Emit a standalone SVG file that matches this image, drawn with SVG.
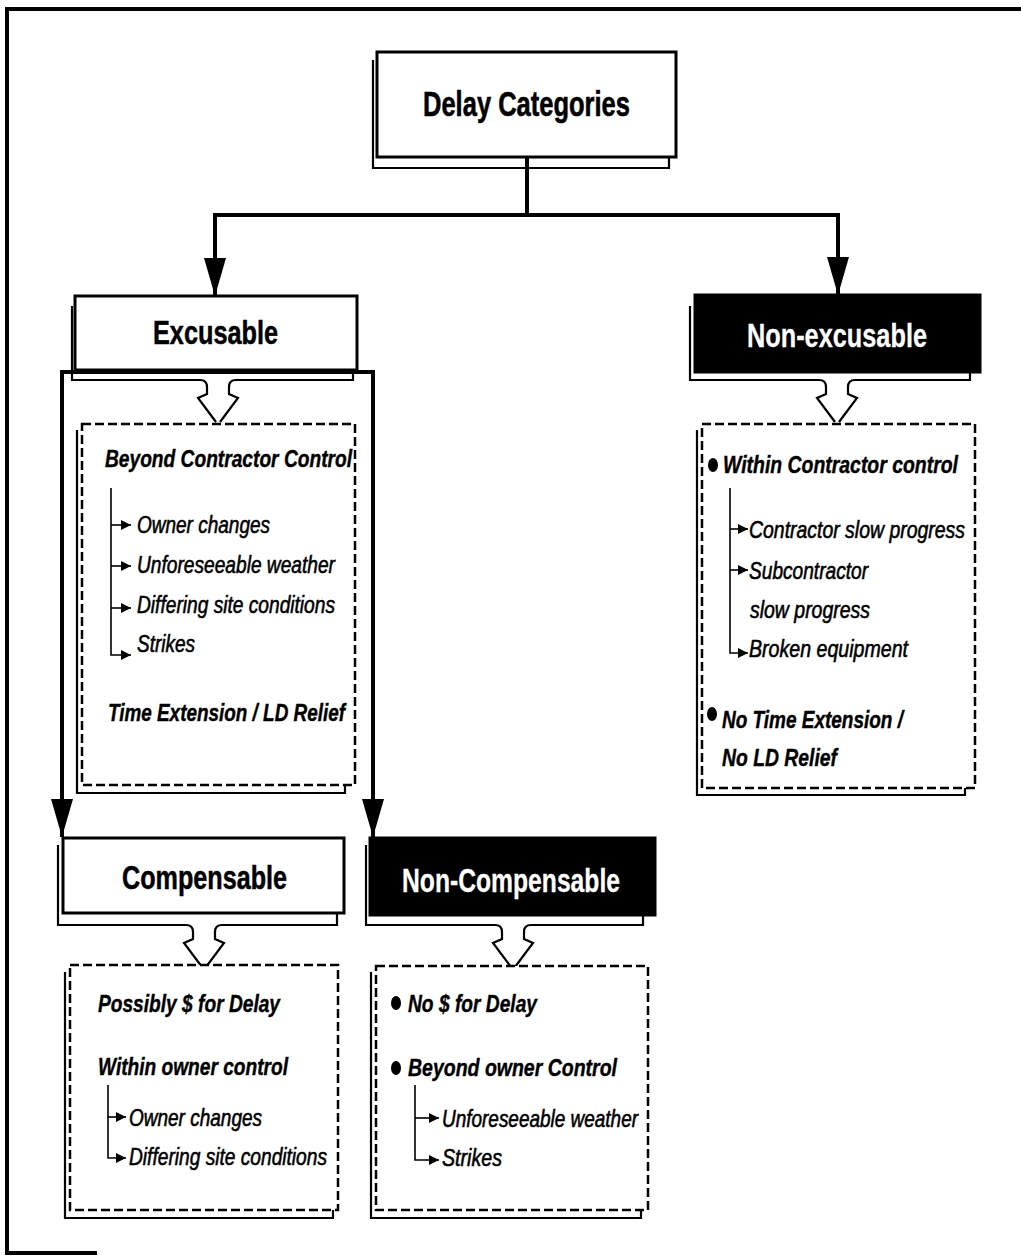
<svg xmlns="http://www.w3.org/2000/svg" width="1021" height="1259" viewBox="0 0 1021 1259">
<defs>
<style>
.box{fill:#fff;stroke:#000;stroke-width:3}
.dark{fill:#000;stroke:#000;stroke-width:3}
.shadow{fill:none;stroke:#000;stroke-width:2.2}
.dash{fill:#fff;stroke:#000;stroke-width:2.5;stroke-dasharray:9 4}
.conn{fill:none;stroke:#000;stroke-width:4}
.tree{fill:none;stroke:#000;stroke-width:1.6}
.frame{fill:none;stroke:#000;stroke-width:4}
text{font-family:"Liberation Sans Narrow","Liberation Sans",Arial,sans-serif}
.title{font-weight:bold;font-size:35px;stroke:#000;stroke-width:0.6}
.lbl{font-weight:bold;font-size:33px;stroke:#000;stroke-width:0.5}
.wt{fill:#fff;stroke:#fff;stroke-width:0.3}
.head{font-weight:bold;font-style:italic;font-size:24px;stroke:#000;stroke-width:0.4}
.item{font-style:italic;font-size:24px;stroke:#000;stroke-width:0.6}
</style>
<marker id="big" markerUnits="userSpaceOnUse" viewBox="0 0 38 22" markerWidth="38" markerHeight="22" refX="38" refY="11" orient="auto">
<path d="M0,0 L38,11 L0,22 z" fill="#000"/>
</marker>
<marker id="sm" markerUnits="userSpaceOnUse" viewBox="0 0 10 10" markerWidth="10" markerHeight="10" refX="10" refY="5" orient="auto">
<path d="M0,0 L10,5 L0,10 z" fill="#000"/>
</marker>
<path id="funnel" d="M-18,0 Q-11,0 -11,7 V14 L-20,18 L-2,42 M18,0 Q11,0 11,7 V14 L20,18 L2,42" fill="none" stroke="#000" stroke-width="2.2"/>
</defs>

<g id="frame">
<path class="frame" d="M5,9 H1021" stroke-width="5"/>
<path class="frame" d="M7,7 V1255"/>
<path class="frame" d="M7,1253 H97"/>
</g>

<g id="connectors">
<path class="conn" d="M527,157 V215"/>
<path class="conn" d="M527,215 H215 V296" marker-end="url(#big)"/>
<path class="conn" d="M527,215 H838 V295" marker-end="url(#big)"/>
<path class="conn" d="M218,372 H62 V837" marker-end="url(#big)"/>
<path class="conn" d="M218,372 H373 V837" marker-end="url(#big)"/>
<use href="#funnel" x="218" y="380"/>
<use href="#funnel" x="837" y="380"/>
<use href="#funnel" x="204" y="925"/>
<use href="#funnel" x="513" y="925"/>
</g>

<g id="delay-categories">
<path class="shadow" d="M373,60 V168 H669 V157"/>
<rect class="box" x="377" y="52" width="299" height="105"/>
<text class="title" x="423" y="116" textLength="207" lengthAdjust="spacingAndGlyphs">Delay Categories</text>
</g>

<g id="excusable">
<path class="shadow" d="M72,306 V380 H200 M236,380 H353 V369"/>
<rect class="box" x="75" y="296" width="282" height="74"/>
<text class="lbl" x="153" y="344" textLength="125" lengthAdjust="spacingAndGlyphs">Excusable</text>
</g>

<g id="non-excusable">
<path class="shadow" d="M690,306 V380 H819 M855,380 H970 V372"/>
<rect class="dark" x="695" y="295" width="285" height="77"/>
<text class="lbl wt" x="747" y="347" textLength="180" lengthAdjust="spacingAndGlyphs">Non-excusable</text>
</g>

<g id="beyond-contractor">
<path class="shadow" d="M77,430 V793 H345 V785"/>
<rect class="dash" x="82" y="424" width="273" height="361"/>
<text class="head" x="105" y="467" textLength="247" lengthAdjust="spacingAndGlyphs">Beyond Contractor Control</text>
<path class="tree" d="M111,488 V655 H131" marker-end="url(#sm)"/>
<path class="tree" d="M111,525 H131" marker-end="url(#sm)"/>
<path class="tree" d="M111,566 H131" marker-end="url(#sm)"/>
<path class="tree" d="M111,608 H131" marker-end="url(#sm)"/>
<text class="item" x="137" y="533" textLength="133" lengthAdjust="spacingAndGlyphs">Owner changes</text>
<text class="item" x="137" y="573" textLength="198" lengthAdjust="spacingAndGlyphs">Unforeseeable weather</text>
<text class="item" x="137" y="613" textLength="198" lengthAdjust="spacingAndGlyphs">Differing site conditions</text>
<text class="item" x="137" y="652" textLength="58" lengthAdjust="spacingAndGlyphs">Strikes</text>
<text class="head" x="108" y="721" textLength="237" lengthAdjust="spacingAndGlyphs">Time Extension / LD Relief</text>
</g>

<g id="within-contractor">
<path class="shadow" d="M697,430 V795 H965 V788"/>
<rect class="dash" x="702" y="424" width="273" height="364"/>
<ellipse cx="713" cy="465" rx="5" ry="7"/>
<text class="head" x="723" y="473" textLength="235" lengthAdjust="spacingAndGlyphs">Within Contractor control</text>
<path class="tree" d="M730,488 V653 H748" marker-end="url(#sm)"/>
<path class="tree" d="M730,529 H748" marker-end="url(#sm)"/>
<path class="tree" d="M730,570 H748" marker-end="url(#sm)"/>
<text class="item" x="749" y="538" textLength="216" lengthAdjust="spacingAndGlyphs">Contractor slow progress</text>
<text class="item" x="749" y="579" textLength="119" lengthAdjust="spacingAndGlyphs">Subcontractor</text>
<text class="item" x="750" y="618" textLength="120" lengthAdjust="spacingAndGlyphs">slow progress</text>
<text class="item" x="749" y="657" textLength="159" lengthAdjust="spacingAndGlyphs">Broken equipment</text>
<ellipse cx="712" cy="714" rx="5" ry="7"/>
<text class="head" x="722" y="728" textLength="181" lengthAdjust="spacingAndGlyphs">No Time Extension /</text>
<text class="head" x="722" y="766" textLength="115" lengthAdjust="spacingAndGlyphs">No LD Relief</text>
</g>

<g id="compensable">
<path class="shadow" d="M58,845 V925 H186 M222,925 H337 V913"/>
<rect class="box" x="63" y="838" width="281" height="75"/>
<text class="lbl" x="122" y="889" textLength="165" lengthAdjust="spacingAndGlyphs">Compensable</text>
</g>

<g id="non-compensable">
<path class="shadow" d="M366,845 V925 H495 M531,925 H643 V915"/>
<rect class="dark" x="370" y="838" width="285" height="77"/>
<text class="lbl wt" x="402" y="892" textLength="218" lengthAdjust="spacingAndGlyphs">Non-Compensable</text>
</g>

<g id="owner-control">
<path class="shadow" d="M65,972 V1218 H333 V1210"/>
<rect class="dash" x="70" y="965" width="268" height="245"/>
<text class="head" x="98" y="1012" textLength="182" lengthAdjust="spacingAndGlyphs">Possibly $ for Delay</text>
<text class="head" x="98" y="1075" textLength="190" lengthAdjust="spacingAndGlyphs">Within owner control</text>
<path class="tree" d="M108,1085 V1158 H126" marker-end="url(#sm)"/>
<path class="tree" d="M108,1117 H126" marker-end="url(#sm)"/>
<text class="item" x="129" y="1126" textLength="133" lengthAdjust="spacingAndGlyphs">Owner changes</text>
<text class="item" x="129" y="1165" textLength="198" lengthAdjust="spacingAndGlyphs">Differing site conditions</text>
</g>

<g id="beyond-owner">
<path class="shadow" d="M371,972 V1218 H641 V1210"/>
<rect class="dash" x="376" y="966" width="272" height="244"/>
<ellipse cx="396" cy="1003" rx="5" ry="7"/>
<text class="head" x="408" y="1012" textLength="129" lengthAdjust="spacingAndGlyphs">No $ for Delay</text>
<ellipse cx="396" cy="1068" rx="5" ry="7"/>
<text class="head" x="408" y="1076" textLength="209" lengthAdjust="spacingAndGlyphs">Beyond owner Control</text>
<path class="tree" d="M415,1085 V1160 H439" marker-end="url(#sm)"/>
<path class="tree" d="M415,1118 H439" marker-end="url(#sm)"/>
<text class="item" x="442" y="1127" textLength="196" lengthAdjust="spacingAndGlyphs">Unforeseeable weather</text>
<text class="item" x="442" y="1166" textLength="60" lengthAdjust="spacingAndGlyphs">Strikes</text>
</g>
</svg>
